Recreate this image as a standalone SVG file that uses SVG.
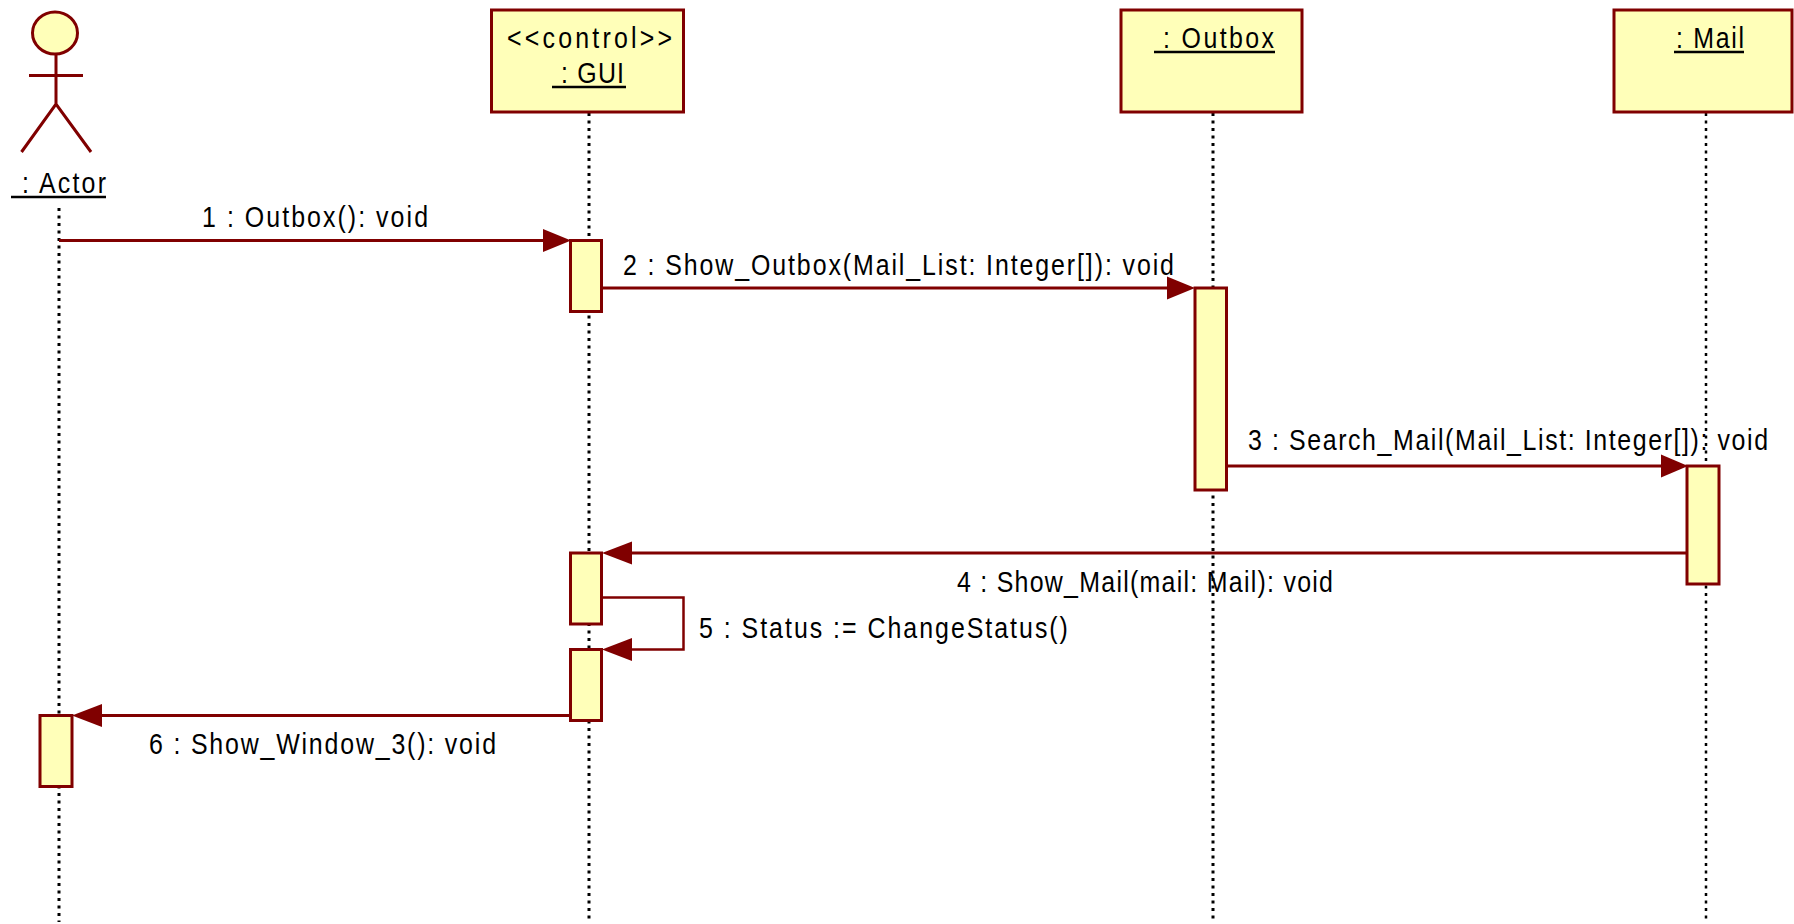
<svg xmlns="http://www.w3.org/2000/svg" width="1794" height="924" viewBox="0 0 1794 924">
<style>
text{font-family:"Liberation Sans",Arial,sans-serif;font-size:29px;fill:#000}
.b{fill:#ffffb9;stroke:#800000;stroke-width:3}
.l{fill:none;stroke:#800000;stroke-width:3}
.s{stroke:#000;stroke-width:3;fill:none;stroke-dasharray:3 4.5}
.u{stroke:#000;stroke-width:2.5}
.c{fill:none;stroke:#800000;stroke-width:3}
.h{fill:#800000}
</style>
<rect width="1794" height="924" fill="#fff"/>
<g id="lifelines">
<line class="s" x1="59" y1="208" x2="59" y2="922"/>
<line class="s" x1="589" y1="113" x2="589" y2="922"/>
<line class="s" x1="1213" y1="113" x2="1213" y2="922"/>
<line class="s" x1="1706" y1="113" x2="1706" y2="922" style="stroke-width:2.5"/>
</g>
<g id="actor">
<ellipse class="b" cx="55" cy="33" rx="22.5" ry="21"/>
<path class="l" d="M56 54V104M29 75.500H83M21.500 152L56 104L91 152"/>
<text transform="translate(22 193) scale(.86 1)" textLength="97.700" lengthAdjust="spacing">: Actor</text>
<line class="u" x1="11" y1="197" x2="106" y2="197"/>
</g>
<g id="gui">
<rect class="b" x="491.500" y="10" width="192" height="102"/>
<text transform="translate(507 48) scale(.86 1)" textLength="191.900" lengthAdjust="spacing">&lt;&lt;control&gt;&gt;</text>
<text transform="translate(561 83) scale(.86 1)" textLength="73.300" lengthAdjust="spacing">: GUI</text>
<line class="u" x1="552" y1="87" x2="626" y2="87"/>
</g>
<g id="outbox">
<rect class="b" x="1121" y="10" width="181" height="102"/>
<text transform="translate(1163 48) scale(.86 1)" textLength="129" lengthAdjust="spacing">: Outbox</text>
<line class="u" x1="1154" y1="52" x2="1275" y2="52"/>
</g>
<g id="mail">
<rect class="b" x="1614" y="10" width="178" height="102"/>
<text transform="translate(1676 48) scale(.86 1)" textLength="79" lengthAdjust="spacing">: Mail</text>
<line class="u" x1="1674" y1="52" x2="1744" y2="52"/>
</g>
<g id="activations">
<rect class="b" x="570.500" y="240.500" width="31" height="71"/>
<rect class="b" x="570.500" y="553" width="31" height="71"/>
<rect class="b" x="570.500" y="649.500" width="31" height="71"/>
<rect class="b" x="1195" y="288" width="31.500" height="202"/>
<rect class="b" x="1687" y="466" width="32" height="118"/>
<rect class="b" x="40" y="715.500" width="32" height="71"/>
</g>
<g id="connectors">
<path class="c" d="M59 240.500H545"/><path class="h" d="M543 229L571 240.500L543 252Z"/>
<path class="c" d="M603 288H1170"/><path class="h" d="M1167 276.500L1195 288L1167 299.500Z"/>
<path class="c" d="M1227 466H1665"/><path class="h" d="M1661 454.500L1688 466L1661 477.500Z"/>
<path class="c" d="M1687 553H630"/><path class="h" d="M632 541.500L602 553L632 564.500Z"/>
<path class="c" d="M603 597.500H683.500V649.500H630" style="stroke-width:2.500"/><path class="h" d="M632 638L602 649.500L632 661Z"/>
<path class="c" d="M570 715.500H100"/><path class="h" d="M102 704L72 715.500L102 727Z"/>
</g>
<g id="labels">
<text transform="translate(202 227) scale(.86 1)" textLength="262.800" lengthAdjust="spacing">1 : Outbox(): void</text>
<text transform="translate(623 275) scale(.86 1)" textLength="640.700" lengthAdjust="spacing">2 : Show_Outbox(Mail_List: Integer[]): void</text>
<text transform="translate(1248 450) scale(.86 1)" textLength="604.700" lengthAdjust="spacing">3 : Search_Mail(Mail_List: Integer[]): void</text>
<text transform="translate(957 592) scale(.86 1)" textLength="437.200" lengthAdjust="spacing">4 : Show_Mail(mail: Mail): void</text>
<text transform="translate(699 638) scale(.86 1)" textLength="429" lengthAdjust="spacing">5 : Status := ChangeStatus()</text>
<text transform="translate(149 754) scale(.86 1)" textLength="403.500" lengthAdjust="spacing">6 : Show_Window_3(): void</text>
</g>
</svg>
